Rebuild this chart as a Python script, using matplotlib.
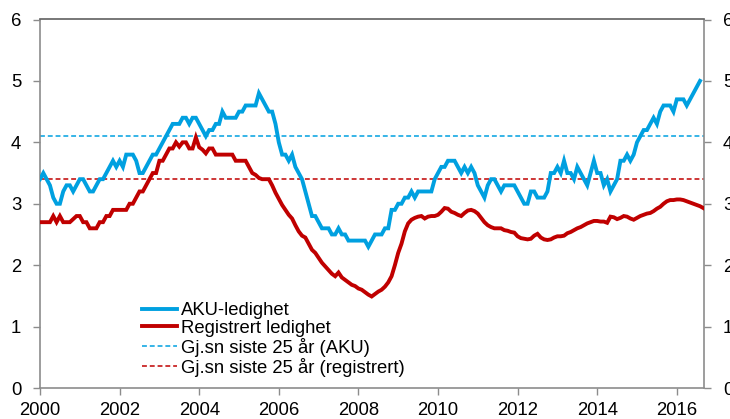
import numpy as np
import matplotlib
matplotlib.use("Agg")
import matplotlib.pyplot as plt

plt.rcParams['font.family'] = ['Liberation Sans', 'DejaVu Sans']

start_year = 2000  # first month: January 2000, monthly data

aku = [3.4, 3.5, 3.4, 3.3, 3.1, 3.0, 3.0, 3.2, 3.3, 3.3,
       3.2, 3.3, 3.4, 3.4, 3.3, 3.2, 3.2, 3.3, 3.4, 3.4,
       3.5, 3.6, 3.7, 3.6, 3.7, 3.6, 3.8, 3.8, 3.8, 3.7,
       3.5, 3.5, 3.6, 3.7, 3.8, 3.8, 3.9, 4.0, 4.1, 4.2,
       4.3, 4.3, 4.3, 4.4, 4.4, 4.3, 4.4, 4.4, 4.3, 4.2,
       4.1, 4.2, 4.2, 4.3, 4.3, 4.5, 4.4, 4.4, 4.4, 4.4,
       4.5, 4.5, 4.6, 4.6, 4.6, 4.6, 4.8, 4.7, 4.6, 4.5,
       4.5, 4.3, 4.0, 3.8, 3.8, 3.7, 3.8, 3.6, 3.5, 3.4,
       3.2, 3.0, 2.8, 2.8, 2.7, 2.6, 2.6, 2.6, 2.5, 2.5,
       2.6, 2.5, 2.5, 2.4, 2.4, 2.4, 2.4, 2.4, 2.4, 2.3,
       2.4, 2.5, 2.5, 2.5, 2.6, 2.6, 2.9, 2.9, 3.0, 3.0,
       3.1, 3.1, 3.2, 3.1, 3.2, 3.2, 3.2, 3.2, 3.2, 3.4,
       3.5, 3.6, 3.6, 3.7, 3.7, 3.7, 3.6, 3.5, 3.6, 3.5,
       3.6, 3.5, 3.3, 3.2, 3.1, 3.3, 3.4, 3.4, 3.3, 3.2,
       3.3, 3.3, 3.3, 3.3, 3.2, 3.1, 3.0, 3.0, 3.2, 3.2,
       3.1, 3.1, 3.1, 3.2, 3.5, 3.5, 3.6, 3.5, 3.7, 3.5,
       3.5, 3.4, 3.6, 3.5, 3.4, 3.3, 3.5, 3.7, 3.5, 3.5,
       3.3, 3.4, 3.2, 3.3, 3.4, 3.7, 3.7, 3.8, 3.7, 3.8,
       4.0, 4.1, 4.2, 4.2, 4.3, 4.4, 4.3, 4.5, 4.6, 4.6,
       4.6, 4.5, 4.7, 4.7, 4.7, 4.6, 4.7, 4.8, 4.9, 5.0]

registrert = [2.7, 2.7, 2.7, 2.7, 2.8, 2.7, 2.8, 2.7, 2.7, 2.7,
              2.75, 2.8, 2.8, 2.7, 2.7, 2.6, 2.6, 2.6, 2.7, 2.7,
              2.8, 2.8, 2.9, 2.9, 2.9, 2.9, 2.9, 3.0, 3.0, 3.1,
              3.2, 3.2, 3.3, 3.4, 3.5, 3.5, 3.7, 3.7, 3.8, 3.9,
              3.9, 4.0, 3.93, 4.0, 4.0, 3.9, 3.9, 4.08, 3.92, 3.88,
              3.82, 3.9, 3.9, 3.8, 3.8, 3.8, 3.8, 3.8, 3.8, 3.7,
              3.7, 3.7, 3.7, 3.6, 3.5, 3.47, 3.42, 3.4, 3.4, 3.4,
              3.3, 3.18, 3.08, 2.98, 2.9, 2.82, 2.76, 2.65, 2.55, 2.48,
              2.45, 2.35, 2.25, 2.2, 2.12, 2.04, 1.98, 1.92, 1.86, 1.82,
              1.88, 1.8, 1.76, 1.72, 1.68, 1.66, 1.62, 1.6, 1.56, 1.52,
              1.49, 1.53, 1.57, 1.6, 1.65, 1.72, 1.82, 2.0, 2.2, 2.35,
              2.55, 2.68, 2.74, 2.77, 2.79, 2.8, 2.76, 2.79, 2.8, 2.8,
              2.82, 2.87, 2.93, 2.92, 2.87, 2.85, 2.82, 2.8, 2.85, 2.89,
              2.9, 2.88, 2.84, 2.77, 2.7, 2.65, 2.62, 2.6, 2.6, 2.6,
              2.57, 2.56, 2.54, 2.53, 2.47, 2.44, 2.43, 2.42, 2.43, 2.48,
              2.51, 2.45, 2.42, 2.41, 2.42, 2.45, 2.47, 2.47, 2.48, 2.52,
              2.54, 2.57, 2.6, 2.62, 2.65, 2.68, 2.7, 2.72, 2.72, 2.71,
              2.71, 2.69, 2.79, 2.78, 2.75, 2.77, 2.8, 2.79, 2.76, 2.74,
              2.77, 2.8, 2.82, 2.84, 2.85, 2.88, 2.92, 2.95, 3.0, 3.04,
              3.06, 3.06, 3.07, 3.07, 3.06, 3.04, 3.02, 3.0, 2.98, 2.96,
              2.93]

avg_aku = 4.1
avg_registrert = 3.4

labels = ["AKU-ledighet", "Registrert ledighet",
          "Gj.sn siste 25 år (AKU)", "Gj.sn siste 25 år (registrert)"]
x_ticks = [2000, 2002, 2004, 2006, 2008, 2010, 2012, 2014, 2016]
y_ticks = [0, 1, 2, 3, 4, 5, 6]

BLUE = "#00A0E0"
RED = "#C00000"
FS = 13.3

t_aku = start_year + np.arange(len(aku)) / 12.0
t_reg = start_year + np.arange(len(registrert)) / 12.0

fig = plt.figure(figsize=(7.30, 4.19), dpi=100)
ax = fig.add_axes([40 / 730, 1 - 388 / 419, 664 / 730, 368.5 / 419])

l3 = ax.axhline(avg_aku, color=BLUE, lw=1.1, dashes=(3.2, 1.9), zorder=2)
l4 = ax.axhline(avg_registrert, color=RED, lw=1.1, dashes=(3.2, 1.9), zorder=2)
l1, = ax.plot(t_aku, aku, color=BLUE, lw=2.8, zorder=3, solid_joinstyle='miter')
l2, = ax.plot(t_reg, registrert, color=RED, lw=2.8, zorder=3, solid_joinstyle='miter')

ax.set_xlim(start_year, start_year + 200.2 / 12)
ax.set_ylim(0, 6)
ax.set_xticks(x_ticks)
ax.set_xticklabels([str(v) for v in x_ticks])
ax.set_yticks(y_ticks)

ax.tick_params(axis='both', which='both', labelsize=FS, length=5, width=1,
               color='#8c8c8c', direction='out')
ax.tick_params(axis='y', left=True, right=True, labelleft=True, labelright=True, pad=8.5)
ax.tick_params(axis='x', pad=5)

for side in ['left', 'right', 'bottom']:
    ax.spines[side].set_color('#8c8c8c')
    ax.spines[side].set_linewidth(1.2)
ax.spines['top'].set_color('#606060')
ax.spines['top'].set_linewidth(1.2)

leg = ax.legend([l1, l2, l3, l4], labels, loc='upper left',
                bbox_to_anchor=((142 - 40) / 664, (388 - 302) / 368.5),
                frameon=False, fontsize=FS, handlelength=1.9, handletextpad=0.2,
                labelspacing=0.05, borderpad=0, borderaxespad=0)

fig.savefig("out.png", dpi=100)
